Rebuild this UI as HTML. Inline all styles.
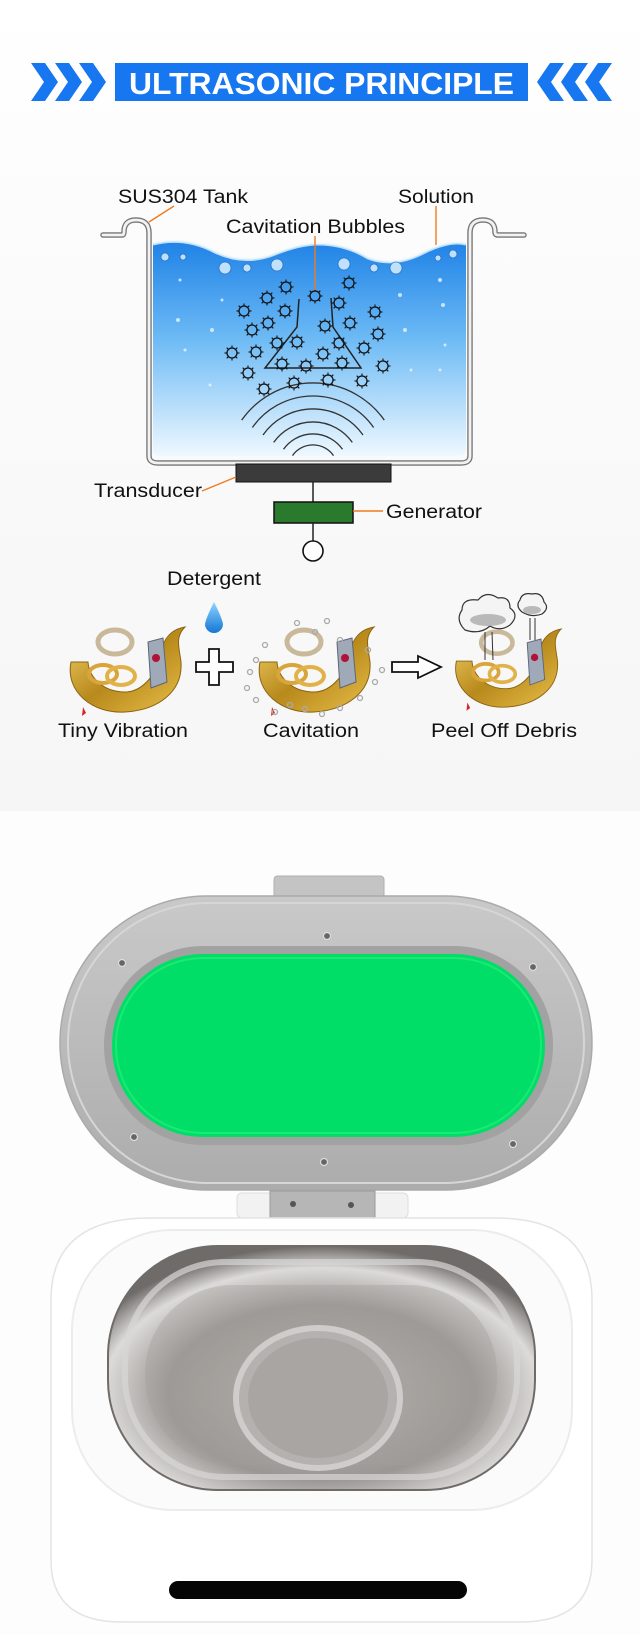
<!DOCTYPE html>
<html><head><meta charset="utf-8"><style>
html,body{margin:0;padding:0;background:#fff}
svg{display:block}
text{font-family:"Liberation Sans",sans-serif}
</style></head><body>
<svg width="640" height="1635" viewBox="0 0 640 1635" xmlns="http://www.w3.org/2000/svg">
<defs>
<linearGradient id="bg" x1="0" y1="0" x2="0" y2="1">
<stop offset="0" stop-color="#ffffff"/><stop offset="0.35" stop-color="#fbfbfb"/><stop offset="1" stop-color="#f6f6f6"/></linearGradient>
<linearGradient id="water" x1="0" y1="0" x2="0" y2="1">
<stop offset="0" stop-color="#1f82e6"/><stop offset="0.45" stop-color="#6cbaf5"/><stop offset="1" stop-color="#eef8ff"/></linearGradient>
<linearGradient id="gold" x1="0" y1="0" x2="1" y2="1">
<stop offset="0" stop-color="#f3d36a"/><stop offset="0.5" stop-color="#b8891c"/><stop offset="1" stop-color="#e9c04a"/></linearGradient>
<radialGradient id="steel" cx="0.5" cy="0.6" r="0.6">
<stop offset="0" stop-color="#bdbab7"/><stop offset="0.6" stop-color="#9a9794"/><stop offset="0.85" stop-color="#dddbd9"/><stop offset="1" stop-color="#6e6b68"/></radialGradient>
<linearGradient id="lid" x1="0" y1="0" x2="0" y2="1">
<stop offset="0" stop-color="#c9c9c9"/><stop offset="1" stop-color="#acacac"/></linearGradient>
<linearGradient id="drop" x1="0" y1="0" x2="0" y2="1">
<stop offset="0" stop-color="#8fd3ff"/><stop offset="1" stop-color="#1577d6"/></linearGradient>
<symbol id="bub" viewBox="-8 -8 16 16" overflow="visible">
<circle r="5" fill="none" stroke="#111" stroke-width="1.3"/>
<g stroke="#111" stroke-width="1.1">
<line x1="0" y1="-5" x2="0" y2="-7.5"/><line x1="0" y1="5" x2="0" y2="7.5"/>
<line x1="-5" y1="0" x2="-7.5" y2="0"/><line x1="5" y1="0" x2="7.5" y2="0"/>
<line x1="3.5" y1="3.5" x2="5.3" y2="5.3"/><line x1="-3.5" y1="3.5" x2="-5.3" y2="5.3"/>
<line x1="3.5" y1="-3.5" x2="5.3" y2="-5.3"/><line x1="-3.5" y1="-3.5" x2="-5.3" y2="-5.3"/>
</g></symbol>
<symbol id="jew" viewBox="0 0 125 95" overflow="visible">
<path d="M8 40 C2 70 30 92 62 90 C95 88 120 70 118 40 C116 25 112 15 122 5 C105 8 100 20 98 30 C96 50 80 70 62 70 C40 70 26 55 25 40 Z" fill="url(#gold)" stroke="#8a6410" stroke-width="1"/>
<ellipse cx="52" cy="20" rx="17" ry="12" fill="none" stroke="#c9b99a" stroke-width="5"/>
<ellipse cx="40" cy="52" rx="14" ry="9" fill="none" stroke="#d9a53a" stroke-width="4"/>
<ellipse cx="58" cy="54" rx="14" ry="9" fill="none" stroke="#e2b24a" stroke-width="4"/>
<path d="M85 20 L100 16 L104 60 L88 66 Z" fill="#9fa9b8" stroke="#5b6678"/>
<circle cx="93" cy="36" r="4" fill="#b0123a"/>
<path d="M20 85 l3 6 l-4 3 z" fill="#d22"/>
</symbol>
</defs>

<rect width="640" height="811" fill="url(#bg)"/>
<rect y="811" width="640" height="824" fill="#fdfdfd"/>

<!-- header -->
<g fill="#1677f0">
<polygon points="31,63 45,63 58,82 45,101 31,101 44,82"/>
<polygon points="55,63 69,63 82,82 69,101 55,101 68,82"/>
<polygon points="79,63 93,63 106,82 93,101 79,101 92,82"/>
<polygon points="612,63 598,63 585,82 598,101 612,101 599,82"/>
<polygon points="588,63 574,63 561,82 574,101 588,101 575,82"/>
<polygon points="564,63 550,63 537,82 550,101 564,101 551,82"/>
<rect x="115" y="63" width="413" height="38"/>
</g>
<text x="321.5" y="94" text-anchor="middle" font-size="31" font-weight="bold" fill="#fff" textLength="385" lengthAdjust="spacingAndGlyphs">ULTRASONIC PRINCIPLE</text>

<!-- tank -->
<path d="M153 244 Q185 236 215 252 Q245 266 275 254 Q300 244 318 244 Q345 244 368 258 Q395 268 425 252 Q450 240 466 244 L466 448 Q466 456 458 456 L161 456 Q153 456 153 448 Z" fill="url(#water)"/>
<path d="M153 244 Q185 236 215 252 Q245 266 275 254 Q300 244 318 244 Q345 244 368 258 Q395 268 425 252 Q450 240 466 244" fill="none" stroke="#e8f6ff" stroke-width="3" opacity="0.8"/>
<g fill="#cfeaff" stroke="#2a6fc2" stroke-width="0.8" opacity="0.9">
<circle cx="165" cy="257" r="4"/><circle cx="225" cy="268" r="6"/><circle cx="247" cy="268" r="4"/><circle cx="277" cy="265" r="6"/><circle cx="344" cy="264" r="6"/><circle cx="374" cy="268" r="4"/><circle cx="396" cy="268" r="6"/><circle cx="453" cy="254" r="4"/><circle cx="183" cy="257" r="3"/><circle cx="438" cy="258" r="3"/>
</g>
<g fill="#e6f5ff" opacity="0.8">
<circle cx="180" cy="280" r="1.5"/><circle cx="178" cy="320" r="2"/><circle cx="185" cy="350" r="1.5"/><circle cx="212" cy="330" r="2"/><circle cx="222" cy="300" r="1.5"/><circle cx="210" cy="385" r="1.5"/><circle cx="400" cy="295" r="2"/><circle cx="405" cy="330" r="2"/><circle cx="411" cy="370" r="1.5"/><circle cx="440" cy="280" r="2"/><circle cx="443" cy="305" r="2"/><circle cx="445" cy="345" r="1.5"/><circle cx="440" cy="370" r="1.5"/>
</g>
<path d="M103 235 L122 235 Q124 235 124 232 Q124 220 136 220 Q149 220 149 233 L149 456 Q149 463 158 463 L461 463 Q470 463 470 456 L470 233 Q470 220 483 220 Q495 220 495 232 Q495 235 498 235 L524 235" fill="none" stroke="#777" stroke-width="5.5" stroke-linejoin="round" stroke-linecap="round"/>
<path d="M103 235 L122 235 Q124 235 124 232 Q124 220 136 220 Q149 220 149 233 L149 456 Q149 463 158 463 L461 463 Q470 463 470 456 L470 233 Q470 220 483 220 Q495 220 495 232 Q495 235 498 235 L524 235" fill="none" stroke="#f2f2f2" stroke-width="2.8" stroke-linejoin="round" stroke-linecap="round"/>

<!-- waves -->
<g fill="none" stroke="#333" stroke-width="1.3">
<path d="M241.7 420.1 A87 87 0 0 1 384.3 420.1"/>
<path d="M252.4 427.5 A74 74 0 0 1 373.6 427.5"/>
<path d="M263 435 A61 61 0 0 1 363 435"/>
<path d="M273.7 442.4 A48 48 0 0 1 352.3 442.4"/>
<path d="M283.5 449.3 A36 36 0 0 1 342.5 449.3"/>
<path d="M292.5 455.6 A25 25 0 0 1 333.5 455.6"/>
</g>
<!-- flask -->
<polyline points="299,299 297,327 265,368 361,368 333,327 331,298" fill="none" stroke="#222" stroke-width="1.5"/>
<!-- bubbles -->
<g>
<use href="#bub" x="278" y="279" width="16" height="16"/><use href="#bub" x="307" y="288" width="16" height="16"/><use href="#bub" x="341" y="275" width="16" height="16"/><use href="#bub" x="259" y="290" width="16" height="16"/><use href="#bub" x="331" y="295" width="16" height="16"/><use href="#bub" x="236" y="303" width="16" height="16"/><use href="#bub" x="277" y="303" width="16" height="16"/><use href="#bub" x="367" y="304" width="16" height="16"/><use href="#bub" x="260" y="315" width="16" height="16"/><use href="#bub" x="317" y="318" width="16" height="16"/><use href="#bub" x="342" y="315" width="16" height="16"/><use href="#bub" x="244" y="322" width="16" height="16"/><use href="#bub" x="370" y="326" width="16" height="16"/><use href="#bub" x="269" y="335" width="16" height="16"/><use href="#bub" x="289" y="334" width="16" height="16"/><use href="#bub" x="331" y="335" width="16" height="16"/><use href="#bub" x="356" y="340" width="16" height="16"/><use href="#bub" x="224" y="345" width="16" height="16"/><use href="#bub" x="248" y="344" width="16" height="16"/><use href="#bub" x="315" y="346" width="16" height="16"/><use href="#bub" x="274" y="356" width="16" height="16"/><use href="#bub" x="298" y="358" width="16" height="16"/><use href="#bub" x="334" y="355" width="16" height="16"/><use href="#bub" x="375" y="358" width="16" height="16"/><use href="#bub" x="240" y="365" width="16" height="16"/><use href="#bub" x="286" y="375" width="16" height="16"/><use href="#bub" x="320" y="372" width="16" height="16"/><use href="#bub" x="354" y="373" width="16" height="16"/><use href="#bub" x="256" y="381" width="16" height="16"/>
</g>

<!-- transducer / generator -->
<rect x="236" y="464" width="155" height="18" fill="#3b3b3b" stroke="#111"/>
<line x1="313" y1="482" x2="313" y2="502" stroke="#222" stroke-width="1.5"/>
<rect x="274" y="502" width="79" height="21" fill="#2a7a2e" stroke="#111" stroke-width="1.5"/>
<line x1="313" y1="523" x2="313" y2="542" stroke="#222" stroke-width="1.5"/>
<ellipse cx="313" cy="551" rx="10" ry="10" fill="#fff" stroke="#111" stroke-width="1.6"/>

<!-- labels / leaders -->
<g stroke="#f07a1e" stroke-width="1.4" fill="none">
<line x1="174" y1="206" x2="149" y2="222"/>
<line x1="436" y1="206" x2="436" y2="245"/>
<line x1="315" y1="236" x2="315" y2="290"/>
<line x1="202" y1="491" x2="236" y2="477"/>
<line x1="353" y1="511" x2="383" y2="511"/>
</g>
<g font-size="19" fill="#111">
<text x="118" y="203" textLength="130" lengthAdjust="spacingAndGlyphs">SUS304 Tank</text>
<text x="398" y="203" textLength="76" lengthAdjust="spacingAndGlyphs">Solution</text>
<text x="226" y="233" textLength="179" lengthAdjust="spacingAndGlyphs">Cavitation Bubbles</text>
<text x="94" y="497" textLength="108" lengthAdjust="spacingAndGlyphs">Transducer</text>
<text x="386" y="518" textLength="96" lengthAdjust="spacingAndGlyphs">Generator</text>
<text x="167" y="585" textLength="94" lengthAdjust="spacingAndGlyphs">Detergent</text>
<text x="58" y="737" textLength="130" lengthAdjust="spacingAndGlyphs">Tiny Vibration</text>
<text x="263" y="737" textLength="96" lengthAdjust="spacingAndGlyphs">Cavitation</text>
<text x="431" y="737" textLength="146" lengthAdjust="spacingAndGlyphs">Peel Off Debris</text>
</g>

<!-- bottom row icons -->
<path d="M214 602 Q206 618 205 624 A9 9 0 0 0 223 624 Q222 618 214 602 Z" fill="url(#drop)"/>
<path d="M209 649 h10 v13 h14 v10 h-14 v13 h-10 v-13 h-13 v-10 h13 z" fill="#fff" stroke="#111" stroke-width="1.8"/>
<path d="M392 662 h26 v-6 l23 11 l-23 11 v-6 h-26 z" fill="#fff" stroke="#111" stroke-width="1.8"/>
<use href="#jew" x="63" y="622" width="125" height="95"/>
<use href="#jew" x="252" y="622" width="125" height="95"/>
<use href="#jew" x="449" y="622" width="115" height="92"/>
<g fill="none" stroke="#aaa" stroke-width="1.3">
<circle cx="256" cy="660" r="2.5"/><circle cx="250" cy="672" r="2.5"/><circle cx="247" cy="688" r="2.5"/><circle cx="256" cy="700" r="2.5"/><circle cx="275" cy="712" r="2.5"/><circle cx="290" cy="705" r="2.5"/><circle cx="305" cy="709" r="2.5"/><circle cx="322" cy="714" r="2.5"/><circle cx="340" cy="708" r="2.5"/><circle cx="360" cy="698" r="2.5"/><circle cx="375" cy="682" r="2.5"/><circle cx="382" cy="670" r="2.5"/><circle cx="368" cy="650" r="2.5"/><circle cx="327" cy="621" r="2.5"/><circle cx="297" cy="623" r="2.5"/><circle cx="315" cy="632" r="2.5"/><circle cx="340" cy="640" r="2.5"/><circle cx="265" cy="645" r="2.5"/>
</g>
<g fill="#f4f4f4" stroke="#333" stroke-width="1.2">
<path d="M465 630 Q455 620 462 610 Q462 598 478 600 Q486 590 498 598 Q510 596 510 608 Q520 615 510 625 Q500 632 490 626 Q480 635 465 630 Z"/>
<path d="M522 612 Q515 606 520 600 Q522 592 532 594 Q542 592 544 602 Q550 608 542 614 Q532 618 522 612 Z"/>
</g>
<g fill="#aaa" opacity="0.8"><ellipse cx="488" cy="620" rx="18" ry="6"/><ellipse cx="532" cy="610" rx="9" ry="4"/></g>
<g stroke="#333" stroke-width="1"><line x1="485" y1="632" x2="485" y2="660"/><line x1="492" y1="632" x2="493" y2="660"/><line x1="530" y1="618" x2="530" y2="640"/><line x1="535" y1="618" x2="535" y2="640"/></g>

<!-- product: lid -->
<path d="M274 896 L274 880 Q274 876 278 876 L380 876 Q384 876 384 880 L384 896 Z" fill="#c4c4c4" stroke="#b0b0b0"/>
<rect x="60" y="896" width="532" height="294" rx="147" fill="url(#lid)" stroke="#aaa" stroke-width="1.5"/>
<rect x="68" y="903" width="516" height="280" rx="140" fill="none" stroke="#d6d6d6" stroke-width="2"/>
<rect x="104" y="946" width="449" height="199" rx="99" fill="#a2a2a2"/>
<rect x="112" y="954" width="433" height="183" rx="91" fill="#00de68"/>
<rect x="116" y="958" width="425" height="175" rx="87" fill="none" stroke="#2bf080" stroke-width="2" opacity="0.6"/>
<g fill="#666" stroke="#ddd" stroke-width="1.2">
<circle cx="327" cy="936" r="3.5"/><circle cx="122" cy="963" r="3.5"/><circle cx="533" cy="967" r="3.5"/><circle cx="134" cy="1137" r="3.5"/><circle cx="513" cy="1144" r="3.5"/><circle cx="324" cy="1162" r="3.5"/>
</g>
<!-- hinge -->
<rect x="237" y="1193" width="171" height="25" rx="5" fill="#f2f2f2" stroke="#ddd"/>
<rect x="270" y="1191" width="105" height="28" fill="#b6b6b6" stroke="#999"/>
<circle cx="293" cy="1204" r="3" fill="#555"/><circle cx="351" cy="1205" r="3" fill="#555"/>
<!-- base -->
<path d="M51 1300 Q51 1218 150 1218 L495 1218 Q592 1218 592 1300 L592 1560 Q592 1622 520 1622 L122 1622 Q51 1622 51 1560 Z" fill="#ffffff" stroke="#e4e4e4" stroke-width="1.5"/>
<rect x="72" y="1230" width="500" height="280" rx="100" fill="#fbfbfb" stroke="#ececec" stroke-width="2"/>
<rect x="108" y="1246" width="427" height="244" rx="110" fill="url(#steel)" stroke="#6f6b68" stroke-width="2"/>
<rect x="125" y="1262" width="392" height="215" rx="100" fill="none" stroke="#d9d7d5" stroke-width="6" opacity="0.7"/>
<rect x="145" y="1285" width="352" height="180" rx="88" fill="#a29f9c" opacity="0.4"/>
<ellipse cx="318" cy="1398" rx="82" ry="70" fill="#b4b1ae" stroke="#cfcdcb" stroke-width="6"/>
<ellipse cx="318" cy="1398" rx="70" ry="60" fill="#a8a5a2"/>
<rect x="169" y="1581" width="298" height="18" rx="9" fill="#050505"/>
</svg>
</body></html>
